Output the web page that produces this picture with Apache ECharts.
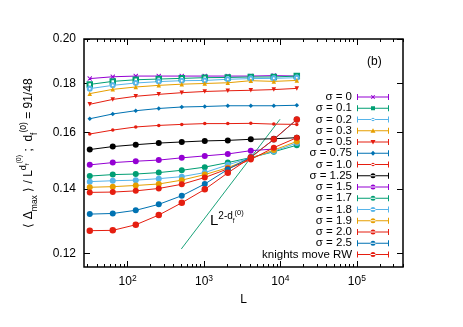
<!DOCTYPE html>
<html><head><meta charset="utf-8">
<script src="https://cdn.jsdelivr.net/npm/echarts@6/dist/echarts.min.js"></script>
<style>html,body{margin:0;padding:0;background:#fff}#c{width:463px;height:327px}</style>
</head><body><div id="c"></div>
<script>
// ---- data ----
const L = [32, 64, 128, 256, 512, 1024, 2048, 4096, 8192, 16384];
const sig0    = [0.1820, 0.1828, 0.1831, 0.1831, 0.1831, 0.1831, 0.1831, 0.1831, 0.1833, 0.1831];
const sig01   = [0.1795, 0.1808, 0.1815, 0.1818, 0.1821, 0.1824, 0.1825, 0.1827, 0.1827, 0.1831];
const sig02   = [0.1777, 0.1791, 0.1801, 0.1807, 0.1811, 0.1812, 0.1817, 0.1820, 0.1821, 0.1824];
const sig03   = [0.1756, 0.1774, 0.1784, 0.1791, 0.1796, 0.1799, 0.1802, 0.1811, 0.1808, 0.1812];
const sig05   = [0.1712, 0.1732, 0.1745, 0.1753, 0.1760, 0.1765, 0.1768, 0.1770, 0.1773, 0.1778];
const sig075  = [0.1654, 0.1673, 0.1686, 0.1695, 0.1701, 0.1703, 0.1706, 0.1706, 0.1706, 0.1708];
const sig10   = [0.1595, 0.1610, 0.1622, 0.1628, 0.1632, 0.1635, 0.1635, 0.1636, 0.1633, 0.1632];
const sig125  = [0.1537, 0.1548, 0.1555, 0.1561, 0.1565, 0.1569, 0.1571, 0.1575, 0.1577, 0.1581];
const sig15   = [0.1482, 0.1490, 0.1495, 0.1499, 0.1507, 0.1514, 0.1521, 0.1533, 0.1539];
const sig17   = [0.1443, 0.1448, 0.1450, 0.1455, 0.1463, 0.1474, 0.1490, 0.1508, 0.1529, 0.1553];
const sig18   = [0.1424, 0.1427, 0.1429, 0.1434, 0.1441, 0.1455, 0.1482, 0.1507, 0.1531, 0.1561];
const sig19   = [0.1405, 0.1407, 0.1411, 0.1416, 0.1429, 0.1448, 0.1472, 0.1505, 0.1535, 0.1567];
const sig20   = [0.1388, 0.1389, 0.1393, 0.1401, 0.1415, 0.1438, 0.1468, 0.1501, 0.1544, 0.1581];
const sig25   = [0.1318, 0.1320, 0.1330, 0.1349, 0.1377, 0.1416, 0.1466, 0.1510, 0.1574, 0.1651];
const knights = [0.1267, 0.1268, 0.1285, 0.1315, 0.1354, 0.1398, 0.1454, 0.1508, 0.1575, 0.1651];
// guide line L^(2-d_f)
const guideL = [505, 9890];
const guideV = [0.1213, 0.1652];
// ticks
const xTickExp = [2, 3, 4, 5];
const yTickVals = [0.12, 0.14, 0.16, 0.18, 0.20];
const xMinL = 26.9, xMaxL = 402000;
const yMinV = 0.1162, yMaxV = 0.20;

// ---- helpers ----
const lg = Math.log10;
const FONT = 'Liberation Sans';
const C = {purple:'#9400d3', green:'#009e73', lblue:'#56b4e9', orange:'#e69f00', blue:'#0072b2', red:'#e51e10', black:'#000000'};
const crossSym = 'path://M0 0 L1.6 0 L10 8.4 L10 10 L8.4 10 L0 1.6 Z M8.4 0 L10 0 L10 1.6 L1.6 10 L0 10 L0 8.4 Z';
function icon(marker) {
  let p = 'path://M0 2.5 L32 2.5 L32 3.5 L0 3.5 Z M0 0 L1 0 L1 6 L0 6 Z M31 0 L32 0 L32 6 L31 6 Z ';
  const m = {
    circle: 'M13.5 3 A2.5 2.5 0 1 0 18.5 3 A2.5 2.5 0 1 0 13.5 3 Z',
    small: 'M14.3 3 A1.7 1.7 0 1 0 17.7 3 A1.7 1.7 0 1 0 14.3 3 Z',
    square: 'M14 1 L18 1 L18 5 L14 5 Z',
    triangle: 'M16 0.6 L18.5 5 L13.5 5 Z',
    invtri: 'M13.5 1 L18.5 1 L16 5.4 Z',
    diamond: 'M16 0.6 L18.4 3 L16 5.4 L13.6 3 Z',
    cross: 'M13.8 1 L14.8 1 L18.2 5 L17.2 5 Z M17.2 1 L18.2 1 L14.8 5 L13.8 5 Z'
  };
  return p + m[marker];
}
const defs = [
  {name:'σ = 0',    v:sig0,   color:C.purple, symbol:crossSym,      size:4.5, mk:'cross'},
  {name:'σ = 0.1',  v:sig01,  color:C.green,  symbol:'emptyRect',   size:4.5, mk:'square'},
  {name:'σ = 0.2',  v:sig02,  color:C.lblue,  symbol:'emptyCircle', size:4, mk:'small'},
  {name:'σ = 0.3',  v:sig03,  color:C.orange, symbol:'triangle',    size:4.5, mk:'triangle'},
  {name:'σ = 0.5',  v:sig05,  color:C.red,    symbol:'triangle',    size:4.5, mk:'invtri', rot:180},
  {name:'σ = 0.75', v:sig075, color:C.blue,   symbol:'diamond',     size:4.5, mk:'diamond'},
  {name:'σ = 1.0',  v:sig10,  color:C.red,    symbol:'circle',      size:3.5, mk:'small'},
  {name:'σ = 1.25', v:sig125, color:C.black,  symbol:'circle',      size:6, mk:'circle'},
  {name:'σ = 1.5',  v:sig15,  color:C.purple, symbol:'circle',      size:6, mk:'circle'},
  {name:'σ = 1.7',  v:sig17,  color:C.green,  symbol:'circle',      size:6, mk:'circle'},
  {name:'σ = 1.8',  v:sig18,  color:C.lblue,  symbol:'circle',      size:6, mk:'circle'},
  {name:'σ = 1.9',  v:sig19,  color:C.orange, symbol:'circle',      size:6, mk:'circle'},
  {name:'σ = 2.0',  v:sig20,  color:C.red,    symbol:'circle',      size:6, mk:'circle'},
  {name:'σ = 2.5',  v:sig25,  color:C.blue,   symbol:'circle',      size:6, mk:'circle'},
  {name:'knights move RW', v:knights, color:C.red, symbol:'circle', size:6.5, mk:'circle'}
];

const series = defs.map(d => ({
  type:'line', name:d.name,
  data: d.v.map((y,i) => [lg(L[i]), lg(y)]),
  symbol:d.symbol, symbolSize:d.size, symbolRotate:d.rot || 0,
  itemStyle:{color:d.color},
  lineStyle:{color:d.color, width:1},
  xAxisIndex:0, yAxisIndex:0,
  animation:false, silent:true, z:3
}));
series.push({
  type:'line', name:'guide',
  data: guideL.map((l,i) => [lg(l), lg(guideV[i])]),
  symbol:'none', lineStyle:{color:'#1aa37a', width:1},
  xAxisIndex:0, yAxisIndex:0, animation:false, silent:true, z:2
});

// minor x ticks
const minorX = [];
for (let e = 1; e <= 5; e++) for (let k = 2; k <= 9; k++) {
  const v = k * Math.pow(10, e);
  if (v > xMinL && v < xMaxL) minorX.push(lg(v));
}
const xmin = lg(xMinL), xmax = lg(xMaxL), ymin = lg(yMinV), ymax = lg(yMaxV);
const majX = xTickExp.slice();
const majY = yTickVals.map(v => lg(v));

function xAx(pos, vals, len, labels) {
  return {
    type:'value', position:pos, min:xmin, max:xmax,
    axisLine:{show:false}, splitLine:{show:false},
    axisTick:{show:true, inside:true, length:len, customValues:vals, lineStyle:{color:'#000', width:1}},
    axisLabel: labels ? {
      show:true, customValues:vals, margin:7, color:'#000', fontFamily:FONT,
      formatter: v => '{b|10}{s|' + Math.round(v) + '}',
      rich:{ b:{fontSize:12, fontFamily:FONT, color:'#000', lineHeight:16},
             s:{fontSize:8.5, fontFamily:FONT, color:'#000', lineHeight:8, verticalAlign:'top'} }
    } : {show:false}
  };
}
function yAx(pos, labels) {
  return {
    type:'value', position:pos, min:ymin, max:ymax,
    axisLine:{show:false}, splitLine:{show:false},
    axisTick:{show:true, inside:true, length:6, customValues:majY, lineStyle:{color:'#000', width:1}},
    axisLabel: labels ? {
      show:true, customValues:majY, margin:8, color:'#000', fontSize:12, fontFamily:FONT,
      formatter: v => Math.pow(10, v).toFixed(2)
    } : {show:false},
    name: labels ? '{t|⟨ Δ}{sub|max}{t| ⟩ / L}{sup|d}{supsub|f}{supsup|(0)}{t| ;  d}{sub|f}{sup1|(0)}{t| = 91/48}' : '',
    nameLocation:'middle', nameRotate:90, nameGap:21,
    nameTextStyle: labels ? {
      fontFamily:FONT, color:'#000',
      rich:{
        t:{fontSize:12, fontFamily:FONT, color:'#000', lineHeight:26},
        sub:{fontSize:8.5, fontFamily:FONT, color:'#000', lineHeight:8, verticalAlign:'bottom', padding:[0,0,3,0]},
        sup:{fontSize:9, fontFamily:FONT, color:'#000', lineHeight:9, verticalAlign:'top', padding:[3,0,0,0]},
        sup1:{fontSize:8.5, fontFamily:FONT, color:'#000', lineHeight:8, verticalAlign:'top', padding:[3,0,0,0]},
        supsub:{fontSize:6, fontFamily:FONT, color:'#000', lineHeight:6, verticalAlign:'top', padding:[9,0,0,0]},
        supsup:{fontSize:7, fontFamily:FONT, color:'#000', lineHeight:7, verticalAlign:'top', padding:[0,0,0,0]}
      }
    } : {}
  };
}

const option = {
  backgroundColor:'#fff',
  animation:false,
  grid:{left:84, right:60, top:39, bottom:60, show:true, borderColor:'#000', borderWidth:1.5, backgroundColor:'transparent'},
  xAxis:[
    Object.assign(xAx('bottom', majX, 6, true), {name:'L', nameLocation:'middle', nameGap:27, nameTextStyle:{fontSize:12, fontFamily:FONT, color:'#000'}}),
    xAx('bottom', minorX, 3, false),
    xAx('top', majX, 6, false),
    xAx('top', minorX, 3, false)
  ],
  yAxis:[ yAx('left', true), yAx('right', false) ],
  legend:{
    orient:'vertical', align:'right', right:74, top:91, padding:0,
    itemWidth:32, itemHeight:6, itemGap:-0.75, selectedMode:false,
    itemStyle:{borderWidth:0},
    textStyle:{fontSize:11.5, fontFamily:FONT, color:'#000', lineHeight:10.65},
    data: defs.map(d => ({name:d.name, icon:icon(d.mk)}))
  },
  graphic:[
    {type:'text', left:367, top:56, style:{text:'(b)', font:'12px "Liberation Sans"', fill:'#000'}},
    {type:'text', left:210, top:209, style:{
      text:'{L|L}{s|2-d}{f|f}{z|(0)}',
      rich:{
        L:{fontSize:15, fontFamily:FONT, fill:'#000', lineHeight:24},
        s:{fontSize:10, fontFamily:FONT, fill:'#000', lineHeight:10, verticalAlign:'top', padding:[2,0,0,0]},
        f:{fontSize:6.5, fontFamily:FONT, fill:'#000', lineHeight:7, verticalAlign:'top', padding:[9,0,0,0]},
        z:{fontSize:7.5, fontFamily:FONT, fill:'#000', lineHeight:8, verticalAlign:'top', padding:[0,0,0,0]}
      }
    }}
  ],
  series: series
};
const chart = echarts.init(document.getElementById('c'), null, {renderer:'canvas'});
chart.setOption(option);
</script>
</body></html>
